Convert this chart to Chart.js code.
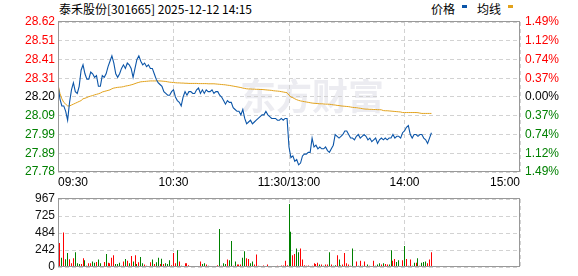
<!DOCTYPE html>
<html>
<head>
<meta charset="utf-8">
<script src="https://cdn.jsdelivr.net/npm/chart.js@4.4.1/dist/chart.umd.min.js"></script>
<style>
    body { margin: 0; width: 578px; height: 276px; background: #fff; position: relative; overflow: hidden; }
    #title { position: absolute; left: 59px; top: 0; line-height: 17px; font: 12px "Noto Sans CJK SC", sans-serif; color: #000; white-space: nowrap; }
    .lg { position: absolute; top: 0; line-height: 17px; font: 12px "Noto Sans CJK SC", sans-serif; color: #000; }
    .mk { position: absolute; top: 5px; width: 5px; height: 3px; }
    #priceBox { position: absolute; left: 0; top: 0; width: 578px; height: 196px; }
    #volBox { position: absolute; left: 0; top: 190px; width: 578px; height: 86px; }
</style>
</head>
<body>
<div id="title">泰禾股份[301665] 2025-12-12 14:15</div>
<span class="lg" style="left:431px">价格</span><span class="mk" style="left:462px;background:#0b55a8"></span>
<span class="lg" style="left:477px">均线</span><span class="mk" style="left:508px;background:#e2a21c"></span>
<div id="priceBox"><canvas id="priceChart"></canvas></div>
<div id="volBox"><canvas id="volChart"></canvas></div>
<script>
// 时间轴 (分钟 0 = 09:30, 120 = 11:30/13:00, 240 = 15:00)
const timeLabels = ['09:30', '10:30', '11:30/13:00', '14:00', '15:00'];
const timeTicks = [0, 60, 120, 180, 240];
const priceTicks = ['28.62', '28.51', '28.41', '28.31', '28.20', '28.09', '27.99', '27.89', '27.78'];
const pctTicks = ['1.49%', '1.12%', '0.74%', '0.37%', '0.00%', '0.37%', '0.74%', '1.12%', '1.49%'];
const volTicks = ['967', '725', '484', '242', '0'];

// 每分钟价格
const prices = [
    28.27, 28.19, 28.15, 28.15, 28.12, 28.07, 28.17, 28.24, 28.28, 28.23,
    28.22, 28.26, 28.35, 28.38, 28.33, 28.30, 28.30, 28.34, 28.33, 28.31,
    28.32, 28.26, 28.26, 28.32, 28.31, 28.33, 28.37, 28.40, 28.43, 28.39,
    28.33, 28.31, 28.33, 28.36, 28.38, 28.36, 28.39, 28.38, 28.36, 28.31,
    28.36, 28.41, 28.43, 28.40, 28.38, 28.39, 28.37, 28.38, 28.36, 28.36,
    28.33, 28.30, 28.28, 28.27, 28.26, 28.23, 28.22, 28.21, 28.21, 28.23,
    28.24, 28.20, 28.18, 28.17, 28.15, 28.20, 28.23, 28.21, 28.23, 28.23,
    28.22, 28.22, 28.24, 28.25, 28.22, 28.24, 28.22, 28.24, 28.23, 28.23,
    28.24, 28.22, 28.23, 28.23, 28.21, 28.20, 28.18, 28.16, 28.18, 28.17,
    28.17, 28.14, 28.13, 28.12, 28.12, 28.10, 28.13, 28.08, 28.05, 28.06,
    28.07, 28.05, 28.06, 28.07, 28.08, 28.09, 28.10, 28.10, 28.12, 28.10,
    28.09, 28.08, 28.08, 28.08, 28.07, 28.07, 28.08, 28.07, 28.08, 28.08,
    27.92, 27.86, 27.87, 27.84, 27.85, 27.82, 27.83, 27.87, 27.88, 27.88,
    27.89, 27.89, 27.97, 27.92, 27.93, 27.91, 27.92, 27.91, 27.91, 27.92,
    27.90, 27.89, 27.91, 27.93, 27.99, 27.98, 27.97, 27.98, 27.99, 28.01,
    28.01, 27.99, 27.97, 27.97, 27.96, 27.98, 27.99, 27.97, 27.98, 27.99,
    27.98, 27.96, 27.97, 27.95, 27.96, 27.97, 27.94, 27.96, 27.97, 27.96,
    27.97, 27.96, 27.97, 27.97, 27.99, 27.97, 27.98, 27.98, 27.97, 28.00,
    28.01, 28.03, 28.04, 27.99, 27.97, 27.99, 27.99, 27.98, 27.99, 27.99,
    27.97, 27.96, 27.94, 27.97, 28.00
];

// 均价线
const avgLine = [
    28.27, 28.22, 28.19, 28.17, 28.16, 28.15, 28.15, 28.155, 28.16, 28.165,
    28.17, 28.175, 28.18, 28.19, 28.193, 28.197, 28.202, 28.205, 28.208, 28.212,
    28.215, 28.218, 28.222, 28.228, 28.231, 28.234, 28.237, 28.24, 28.246, 28.25,
    28.252, 28.254, 28.255, 28.256, 28.258, 28.261, 28.263, 28.265, 28.268, 28.271,
    28.275, 28.279, 28.282, 28.285, 28.286, 28.287, 28.288, 28.289, 28.29, 28.29,
    28.29, 28.29, 28.29, 28.29, 28.289, 28.288, 28.287, 28.285, 28.283, 28.282,
    28.281, 28.28, 28.279, 28.279, 28.278, 28.278, 28.277, 28.277, 28.276, 28.276,
    28.276, 28.276, 28.276, 28.275, 28.275, 28.275, 28.275, 28.275, 28.274, 28.274,
    28.274, 28.274, 28.273, 28.272, 28.271, 28.27, 28.269, 28.268, 28.266, 28.265,
    28.263, 28.261, 28.259, 28.257, 28.255, 28.253, 28.25, 28.248, 28.246, 28.245,
    28.245, 28.244, 28.244, 28.243, 28.243, 28.242, 28.242, 28.241, 28.24, 28.239,
    28.238, 28.237, 28.235, 28.234, 28.233, 28.232, 28.23, 28.228, 28.226, 28.224,
    28.21, 28.2, 28.196, 28.19, 28.185, 28.181, 28.178, 28.176, 28.174, 28.172,
    28.17, 28.168, 28.166, 28.165, 28.164, 28.163, 28.162, 28.162, 28.161, 28.16,
    28.16, 28.159, 28.158, 28.156, 28.155, 28.153, 28.152, 28.15, 28.149, 28.148,
    28.147, 28.146, 28.144, 28.142, 28.141, 28.14, 28.138, 28.137, 28.135, 28.133,
    28.132, 28.132, 28.131, 28.131, 28.13, 28.13, 28.129, 28.129, 28.128, 28.124,
    28.123, 28.123, 28.122, 28.121, 28.12, 28.119, 28.118, 28.117, 28.116, 28.113,
    28.113, 28.113, 28.113, 28.113, 28.113, 28.113, 28.113, 28.112, 28.11, 28.108,
    28.108, 28.108, 28.108, 28.108, 28.108
];

// 成交量 (手)
const volumes = [
    20, 343, 132, 492, 110, 198, 110, 53, 123, 211,
    53, 44, 44, 123, 97, 18, 53, 53, 79, 62,
    70, 105, 53, 9, 70, 185, 62, 53, 132, 167,
    44, 44, 62, 18, 79, 114, 88, 53, 158, 79,
    167, 44, 66, 141, 53, 35, 18, 9, 66, 105,
    44, 66, 132, 44, 119, 44, 53, 44, 97, 26,
    198, 53, 237, 79, 18, 9, 53, 53, 26, 13,
    9, 9, 9, 9, 79, 44, 53, 35, 18, 9,
    9, 9, 9, 26, 541, 18, 53, 44, 105, 97,
    369, 18, 79, 35, 35, 35, 132, 224, 123, 114,
    53, 79, 35, 176, 18, 9, 13, 22, 13, 35,
    13, 9, 9, 13, 18, 13, 22, 22, 88, 26,
    897, 501, 167, 185, 264, 211, 264, 105, 26, 18,
    22, 9, 18, 53, 44, 62, 35, 35, 18, 35,
    35, 211, 35, 18, 26, 167, 105, 22, 35, 198,
    53, 35, 18, 264, 13, 79, 18, 88, 18, 79,
    13, 35, 18, 9, 88, 18, 35, 53, 35, 53,
    44, 35, 35, 237, 88, 114, 70, 97, 9, 97,
    299, 114, 18, 105, 18, 62, 62, 123, 18, 62,
    70, 79, 53, 105, 211
];
// u = 上涨(红), d = 下跌(绿)
const volDir = (
    'uududduuud' + 'dduudduudd' + 'uddduduuuu' + 'ddddududud' + 'ududduudud' +
    'uddududddu' + 'uududuuuuu' + 'uddduddudd' + 'uudududdud' + 'duduuudduu' +
    'dduuuuuudu' + 'duduuuuuuu' + 'dduudduuuu' + 'uuuuuududu' + 'ududdudduu' +
    'uuuduududu' + 'udududddud' + 'uudduudduu' + 'duuuddudud' + 'dduuu'
).split('');

const FONT = { family: '"Liberation Sans", Arial, sans-serif', size: 12 };
const GRID = '#d2d2d2';

const evenTicks = (min, max, n) => Array.from({ length: n }, (_, i) => ({ value: min + (max - min) * i / (n - 1) }));

const frame = {
    id: 'frame',
    afterDraw(chart) {
        const { ctx, chartArea: a } = chart;
        ctx.save();
        ctx.strokeStyle = '#999';
        ctx.lineWidth = 1;
        ctx.strokeRect(a.left + 0.5, a.top - 0.5, a.right - a.left - 1, a.bottom - a.top);
        ctx.restore();
    }
};

const watermark = {
    id: 'watermark',
    beforeDraw(chart) {
        const { ctx } = chart;
        ctx.save();
        ctx.fillStyle = '#ececf1';
        ctx.font = 'bold 36px "Noto Sans CJK SC", sans-serif';
        ctx.textBaseline = 'middle';
        ctx.fillText('东方财富', 240, 96);
        ctx.restore();
    }
};

// 1px 柱子对齐到整像素，避免发虚
const snapBars = {
    id: 'snapBars',
    afterDatasetsUpdate(chart) {
        chart.getDatasetMeta(0).data.forEach(bar => { bar.x = Math.floor(bar.x) + 0.5; });
    }
};

const xAxis = (showLabels) => ({
    type: 'linear',
    min: timeTicks[0],
    max: timeTicks[timeTicks.length - 1],
    offset: false,
    afterBuildTicks: s => { s.ticks = timeTicks.map(v => ({ value: v })); },
    afterFit: s => { s.height = showLabels ? 24 : 0; },
    grid: { color: GRID, drawTicks: false, offset: false },
    border: { display: false, dash: [4, 3] },
    ticks: {
        display: showLabels, align: 'inner', padding: 3, color: '#000', font: FONT,
        maxRotation: 0, autoSkip: false,
        callback: (v, i) => timeLabels[i]
    }
});

const pMin = Number(priceTicks[priceTicks.length - 1]);
const pMax = Number(priceTicks[0]);
const sideColor = ctx => ctx.index > 4 ? '#ff0000' : (ctx.index === 4 ? '#000' : '#008000');

new Chart(document.getElementById('priceChart'), {
    type: 'line',
    data: {
        datasets: [{
            label: '价格',
            data: prices.map((p, i) => ({ x: i, y: p })),
            borderColor: '#0b55a8',
            borderWidth: 1.1,
            pointRadius: 0,
            tension: 0
        }, {
            label: '均线',
            data: avgLine.map((p, i) => ({ x: i, y: p })),
            borderColor: '#e2a21c',
            borderWidth: 1,
            pointRadius: 0,
            tension: 0
        }]
    },
    options: {
        responsive: true,
        maintainAspectRatio: false,
        animation: false,
        layout: { padding: { top: 22, left: 0, right: 0, bottom: 0 } },
        plugins: { legend: { display: false }, tooltip: { enabled: false } },
        scales: {
            x: xAxis(true),
            y: {
                position: 'left', min: pMin, max: pMax,
                afterBuildTicks: s => { s.ticks = evenTicks(pMin, pMax, priceTicks.length); },
                afterFit: s => { s.width = 58; },
                grid: { color: GRID, drawTicks: false },
                border: { display: false, dash: [4, 3] },
                ticks: { padding: 3, color: sideColor, font: FONT, callback: (v, i) => priceTicks[priceTicks.length - 1 - i] }
            },
            yr: {
                position: 'right', min: pMin, max: pMax,
                afterBuildTicks: s => { s.ticks = evenTicks(pMin, pMax, pctTicks.length); },
                afterFit: s => { s.width = 58; },
                grid: { drawOnChartArea: false, drawTicks: false },
                border: { display: false },
                ticks: { padding: 5, color: sideColor, font: FONT, callback: (v, i) => pctTicks[pctTicks.length - 1 - i] }
            }
        }
    },
    plugins: [watermark, frame]
});

const vMax = Number(volTicks[0]);

new Chart(document.getElementById('volChart'), {
    type: 'bar',
    data: {
        datasets: [{
            data: volumes.map((v, i) => ({ x: i, y: v })),
            backgroundColor: volDir.map(d => d === 'u' ? '#ff0000' : '#008000'),
            barThickness: 1,
            inflateAmount: 0
        }]
    },
    options: {
        responsive: true,
        maintainAspectRatio: false,
        animation: false,
        layout: { padding: { top: 7, left: 0, right: 58, bottom: 6 } },
        plugins: { legend: { display: false }, tooltip: { enabled: false } },
        scales: {
            x: xAxis(false),
            y: {
                position: 'left', min: 0, max: vMax,
                afterBuildTicks: s => { s.ticks = evenTicks(0, vMax, volTicks.length); },
                afterFit: s => { s.width = 58; },
                grid: { color: GRID, drawTicks: false },
                border: { display: false, dash: [4, 3] },
                ticks: { padding: 3, color: '#111', font: { ...FONT, lineHeight: 1 }, callback: (v, i) => volTicks[volTicks.length - 1 - i] }
            }
        }
    },
    plugins: [snapBars, frame]
});
</script>
</body>
</html>
